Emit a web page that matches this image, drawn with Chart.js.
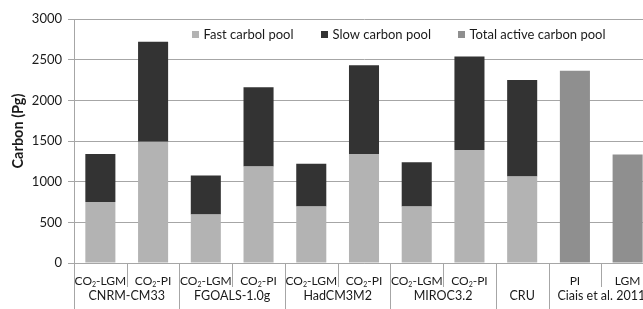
<!DOCTYPE html>
<html><head><meta charset="utf-8">
<script src="https://cdn.jsdelivr.net/npm/chart.js@4/dist/chart.umd.min.js"></script>
<style>html,body{margin:0;padding:0;overflow:hidden;background:#fff}#wrap{width:656px;height:309px;position:relative}</style>
</head><body><div id="wrap"><canvas id="c"></canvas></div>
<script>
const categories = ['CO₂-LGM','CO₂-PI','CO₂-LGM','CO₂-PI','CO₂-LGM','CO₂-PI','CO₂-LGM','CO₂-PI','','PI','LGM'];
const groupNames = ['CNRM-CM33','FGOALS-1.0g','HadCM3M2','MIROC3.2','CRU','Ciais et al. 2011'];
const groupSizes = [2,2,2,2,1,2];
const fastPool  = [750,1490,595,1185,695,1340,695,1390,1065,null,null];
const slowPool  = [590,1230,480,975,525,1090,545,1150,1185,null,null];
const totalPool = [null,null,null,null,null,null,null,null,null,2365,1335];
const seriesNames = ['Fast carbol pool','Slow carbon pool','Total active carbon pool'];
const seriesColors = ['#b3b3b3','#333333','#8f8f8f'];
const yTicks = [0,500,1000,1500,2000,2500,3000];
const yTitle = 'Carbon (Pg)';

const FONT = 'Lato, "Liberation Sans", sans-serif';
const TXT = '#1a1a1a';
const LINE = '#a6a6a6';

function drawLabel(ctx, text, x, y, size) {
  const parts = text.split('₂');
  ctx.font = size + 'px ' + FONT;
  if (parts.length === 1) { ctx.textAlign = 'center'; ctx.fillText(text, x, y); return; }
  const subSize = Math.round(size * 0.6);
  ctx.font = size + 'px ' + FONT; const w1 = ctx.measureText(parts[0]).width; const w3 = ctx.measureText(parts[1]).width;
  ctx.font = subSize + 'px ' + FONT; const w2 = ctx.measureText('2').width;
  let sx = x - (w1 + w2 + w3) / 2;
  ctx.textAlign = 'left';
  ctx.font = size + 'px ' + FONT; ctx.fillText(parts[0], sx, y); sx += w1;
  ctx.font = subSize + 'px ' + FONT; ctx.fillText('2', sx, y + 3); sx += w2;
  ctx.font = size + 'px ' + FONT; ctx.fillText(parts[1], sx, y);
}

const overlay = {
  id: 'overlay',
  afterDraw(chart) {
    const ctx = chart.ctx, xs = chart.scales.x, area = chart.chartArea;
    const H = chart.height;
    const n = categories.length;
    const half = (xs.getPixelForValue(1) - xs.getPixelForValue(0)) / 2;
    ctx.save();
    ctx.strokeStyle = LINE; ctx.lineWidth = 1;
    let idx = 0; const groupStarts = new Set([0]);
    groupSizes.forEach(s => { idx += s; groupStarts.add(idx); });
    for (let i = 0; i <= n; i++) {
      const bx = Math.round(xs.getPixelForValue(i) - half) + 0.5;
      const full = groupStarts.has(i);
      ctx.beginPath(); ctx.moveTo(bx, area.bottom); ctx.lineTo(bx, full ? H : area.bottom + 24); ctx.stroke();
    }
    ctx.fillStyle = TXT; ctx.textBaseline = 'middle';
    for (let i = 0; i < n; i++) {
      if (categories[i]) drawLabel(ctx, categories[i], xs.getPixelForValue(i), area.bottom + 18.5, 12);
    }
    idx = 0;
    groupNames.forEach((g, k) => {
      const a = xs.getPixelForValue(idx), b = xs.getPixelForValue(idx + groupSizes[k] - 1);
      ctx.textAlign = 'center'; ctx.font = '12.5px ' + FONT;
      ctx.fillText(g, (a + b) / 2, area.bottom + 33);
      idx += groupSizes[k];
    });
    // legend
    const lx = [192, 321, 458];
    seriesNames.forEach((s, k) => {
      ctx.fillStyle = seriesColors[k];
      ctx.fillRect(lx[k], area.top + 12, 7, 7);
      ctx.fillStyle = TXT; ctx.textAlign = 'left'; ctx.font = '13px ' + FONT;
      ctx.fillText(s, lx[k] + 11.5, area.top + 15.5);
    });
    // y title
    ctx.translate(18, (area.top + area.bottom) / 2 - 10);
    ctx.rotate(-Math.PI / 2);
    ctx.textAlign = 'center'; ctx.fillStyle = TXT; ctx.font = 'bold 14.5px ' + FONT;
    ctx.fillText(yTitle, 0, 0);
    ctx.restore();
  }
};

new Chart(document.getElementById('c'), {
  type: 'bar',
  data: {
    labels: categories,
    datasets: [
      { label: seriesNames[0], data: fastPool, backgroundColor: seriesColors[0] },
      { label: seriesNames[1], data: slowPool, backgroundColor: seriesColors[1] },
      { label: seriesNames[2], data: totalPool, backgroundColor: seriesColors[2] }
    ]
  },
  options: {
    animation: false, responsive: true, maintainAspectRatio: false,
    devicePixelRatio: 1,
    layout: { padding: { top: 19, right: 2, left: 0, bottom: 0 } },
    datasets: { bar: { categoryPercentage: 1, barPercentage: 0.57 } },
    plugins: { legend: { display: false }, tooltip: { enabled: false } },
    scales: {
      x: {
        stacked: true,
        grid: { display: false },
        border: { color: LINE },
        ticks: { display: false },
        afterFit(s) { s.height = 46; }
      },
      y: {
        stacked: true, min: 0, max: 3000,
        afterBuildTicks(s) { s.ticks = yTicks.map(v => ({ value: v })); },
        grid: { color: LINE, tickLength: 6 },
        border: { color: LINE },
        ticks: { color: TXT, font: { family: FONT, size: 13 }, padding: 6, callback: v => String(v) },
        afterFit(s) { s.width = 74; }
      }
    }
  },
  plugins: [overlay]
});
</script></body></html>
